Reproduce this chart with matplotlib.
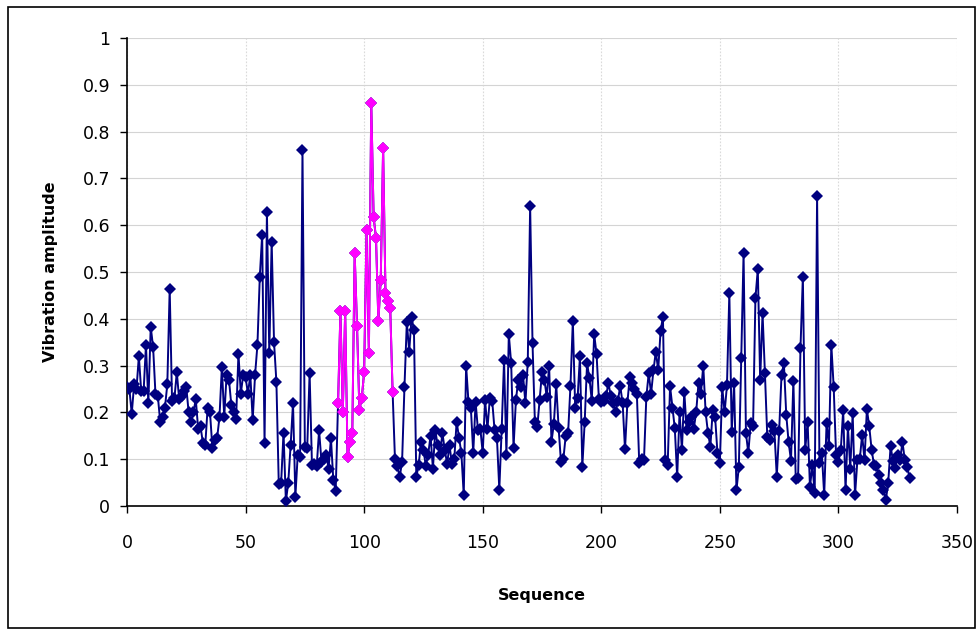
import matplotlib
matplotlib.use("Agg")
import matplotlib.pyplot as plt
from matplotlib.patches import Rectangle

# vibration amplitude per sequence step
amplitude = [
    # 0-88
    0.254, 0.25, 0.197, 0.26, 0.25, 0.32, 0.245, 0.245, 0.344, 0.22,
    0.383, 0.34, 0.24, 0.235, 0.18, 0.19, 0.21, 0.26, 0.464, 0.225,
    0.23, 0.286, 0.228, 0.235, 0.245, 0.254, 0.2, 0.18, 0.2, 0.228,
    0.165, 0.17, 0.135, 0.13, 0.21, 0.2, 0.125, 0.14, 0.145, 0.19,
    0.297, 0.19, 0.28, 0.27, 0.215, 0.2, 0.186, 0.325, 0.24, 0.28,
    0.275, 0.24, 0.28, 0.184, 0.28, 0.344, 0.49, 0.58, 0.135, 0.628,
    0.327, 0.565, 0.35, 0.265, 0.047, 0.05, 0.157, 0.01, 0.05, 0.13,
    0.22, 0.02, 0.11, 0.105, 0.76, 0.127, 0.125, 0.284, 0.088, 0.09,
    0.085, 0.162, 0.095, 0.1, 0.11, 0.08, 0.145, 0.055, 0.033,
    # 89-112 (highlighted burst)
    0.22, 0.416, 0.2, 0.416, 0.104, 0.137, 0.155, 0.54, 0.385, 0.205,
    0.23, 0.287, 0.59, 0.327, 0.862, 0.617, 0.573, 0.395, 0.483, 0.765,
    0.455, 0.438, 0.423, 0.244,
    # 113-142
    0.1, 0.085, 0.062, 0.095, 0.254, 0.393, 0.33, 0.404, 0.376, 0.062,
    0.088, 0.137, 0.12, 0.086, 0.11, 0.15, 0.08, 0.162, 0.13, 0.11,
    0.156, 0.12, 0.09, 0.13, 0.09, 0.1, 0.18, 0.146, 0.113, 0.023,
    # 143-170
    0.3, 0.222, 0.21, 0.113, 0.222, 0.162, 0.165, 0.113, 0.227, 0.165,
    0.23, 0.225, 0.162, 0.145, 0.035, 0.165, 0.311, 0.108, 0.367, 0.305,
    0.125, 0.226, 0.27, 0.254, 0.28, 0.22, 0.308, 0.641,
    # 171-200
    0.348, 0.18, 0.168, 0.226, 0.286, 0.27, 0.233, 0.3, 0.137, 0.176,
    0.26, 0.167, 0.094, 0.1, 0.15, 0.155, 0.256, 0.395, 0.21, 0.23,
    0.32, 0.083, 0.18, 0.305, 0.273, 0.225, 0.367, 0.325, 0.228, 0.222,
    # 201-235
    0.225, 0.234, 0.263, 0.235, 0.22, 0.2, 0.225, 0.256, 0.22, 0.121,
    0.22, 0.276, 0.263, 0.25, 0.24, 0.092, 0.1, 0.098, 0.233, 0.284,
    0.24, 0.29, 0.33, 0.29, 0.374, 0.404, 0.098, 0.088, 0.256, 0.21,
    0.166, 0.062, 0.2, 0.12, 0.244,
    # 236-269
    0.162, 0.18, 0.19, 0.165, 0.2, 0.263, 0.24, 0.3, 0.2, 0.156,
    0.127, 0.205, 0.19, 0.113, 0.092, 0.254, 0.2, 0.258, 0.455, 0.158,
    0.263, 0.034, 0.083, 0.316, 0.54, 0.156, 0.113, 0.177, 0.17, 0.444,
    0.506, 0.27, 0.412, 0.284,
    # 270-303
    0.148, 0.14, 0.173, 0.16, 0.063, 0.16, 0.28, 0.305, 0.195, 0.136,
    0.097, 0.268, 0.058, 0.06, 0.338, 0.49, 0.12, 0.18, 0.04, 0.088,
    0.027, 0.662, 0.092, 0.113, 0.023, 0.177, 0.128, 0.345, 0.254, 0.11,
    0.095, 0.12, 0.205, 0.034,
    # 304-330
    0.17, 0.08, 0.198, 0.023, 0.098, 0.1, 0.152, 0.098, 0.207, 0.17,
    0.12, 0.088, 0.085, 0.066, 0.05, 0.034, 0.013, 0.05, 0.128, 0.096,
    0.082, 0.11, 0.098, 0.137, 0.098, 0.084, 0.06,
]
sequence = list(range(len(amplitude)))

# highlighted window (magenta series)
HIGHLIGHT_START = 89
HIGHLIGHT_END = 112

x_ticks = [0, 50, 100, 150, 200, 250, 300, 350]
y_ticks = [0, 0.1, 0.2, 0.3, 0.4, 0.5, 0.6, 0.7, 0.8, 0.9, 1]
y_tick_labels = ["0", "0.1", "0.2", "0.3", "0.4", "0.5", "0.6", "0.7", "0.8", "0.9", "1"]

NAVY = "#000080"
MAGENTA = "#FF00FF"

fig = plt.figure(figsize=(9.77, 6.30), dpi=100)
ax = fig.add_axes([127 / 977, 1 - 506 / 630, 830 / 977, 468 / 630])

ax.plot(sequence, amplitude, color=NAVY, lw=1.4, marker="D", ms=6.2,
        markeredgewidth=0, zorder=3)
hs = slice(HIGHLIGHT_START, HIGHLIGHT_END + 1)
ax.plot(sequence[hs], amplitude[hs], color=MAGENTA, lw=1.4, marker="D",
        ms=6.2, markeredgewidth=0, zorder=4)

ax.set_xlim(0, 350)
ax.set_ylim(0, 1)
ax.set_xticks(x_ticks)
ax.set_yticks(y_ticks)
ax.set_yticklabels(y_tick_labels)

ax.grid(axis="y", color="#d4d4d4", lw=0.8)
ax.grid(axis="x", color="#dadada", lw=0.8, linestyle=(0, (1.5, 1.5)))
ax.set_axisbelow(True)

for side in ("top", "right"):
    ax.spines[side].set_visible(False)
for side in ("left", "bottom"):
    ax.spines[side].set_color("black")
    ax.spines[side].set_linewidth(1.2)

ax.tick_params(axis="both", direction="out", length=5, width=1, labelsize=12.5,
               colors="black")
ax.tick_params(axis="y", pad=7)
ax.tick_params(axis="x", pad=15)

ax.set_xlabel("Sequence", fontsize=11.5, fontweight="bold", labelpad=26)
ax.set_ylabel("Vibration amplitude", fontsize=11.5, fontweight="bold", labelpad=18)

# outer chart border
fig.patches.append(Rectangle((8 / 977, 2 / 630), 967 / 977, 621 / 630,
                             transform=fig.transFigure, fill=False,
                             edgecolor="black", lw=1.2))

fig.savefig("out.png", dpi=100)
